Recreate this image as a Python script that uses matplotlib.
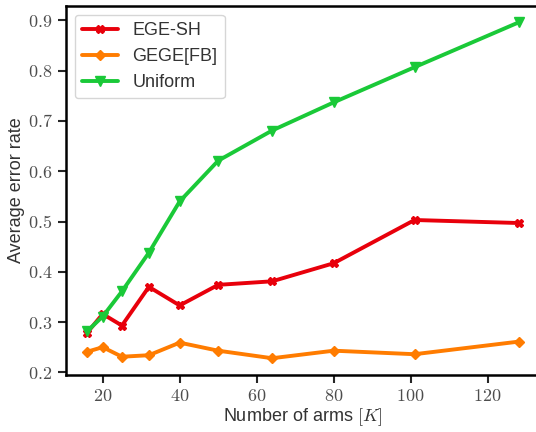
"""
Average error rate vs number of arms for the three allocation strategies
"""
import matplotlib
matplotlib.use('Agg')
import matplotlib.pyplot as plt
from matplotlib.ticker import FuncFormatter
import seaborn as sns

# Number of arms K
arms = [16, 20, 25, 32, 40, 50, 64, 80, 101, 128]

# Average error rate per method
ege_sh = [0.279, 0.316, 0.293, 0.370, 0.333, 0.374, 0.381, 0.417, 0.503, 0.497]
gege_fb = [0.241, 0.250, 0.231, 0.234, 0.259, 0.243, 0.228, 0.243, 0.236, 0.261]
uniform = [0.282, 0.311, 0.361, 0.438, 0.540, 0.621, 0.681, 0.737, 0.807, 0.896]

sns.set_theme(style='ticks', palette='bright')
plt.rcParams['font.family'] = ['Liberation Sans', 'DejaVu Sans']
plt.rcParams['mathtext.fontset'] = 'cm'

pal = sns.color_palette('bright')
red, orange, green = pal[3], pal[1], pal[2]

fig = plt.figure(figsize=(5.36, 4.32), dpi=100)
ax = fig.add_axes([0.1226, 0.1319, 0.885, 0.855])

ax.plot(arms, ege_sh, color=red, marker='X', markersize=6, linewidth=2.8, label='EGE-SH')
ax.plot(arms, gege_fb, color=orange, marker='D', markersize=5.5, linewidth=2.8, label='GEGE[FB]')
ax.plot(arms, uniform, color=green, marker='v', markersize=6.5, linewidth=2.8, label='Uniform')

ax.set_xlabel(r'Number of arms $[K]$', fontsize=13, color='.2', labelpad=1)
ax.set_ylabel('Average error rate', fontsize=13, color='.2', labelpad=2)

ax.set_xticks([20, 40, 60, 80, 100, 120])
ax.set_yticks([0.2, 0.3, 0.4, 0.5, 0.6, 0.7, 0.8, 0.9])
ax.xaxis.set_major_formatter(FuncFormatter(lambda v, p: f'${v:g}$'))
ax.yaxis.set_major_formatter(FuncFormatter(lambda v, p: f'${v:.1f}$'))
ax.tick_params(labelsize=13, length=6, width=1.5, labelcolor='.3')
for sp in ax.spines.values():
    sp.set_linewidth(1.8)
    sp.set_color('black')

ax.legend(loc='upper left', fontsize=13, frameon=True, labelcolor='.2')

fig.savefig('out.png', dpi=100)
